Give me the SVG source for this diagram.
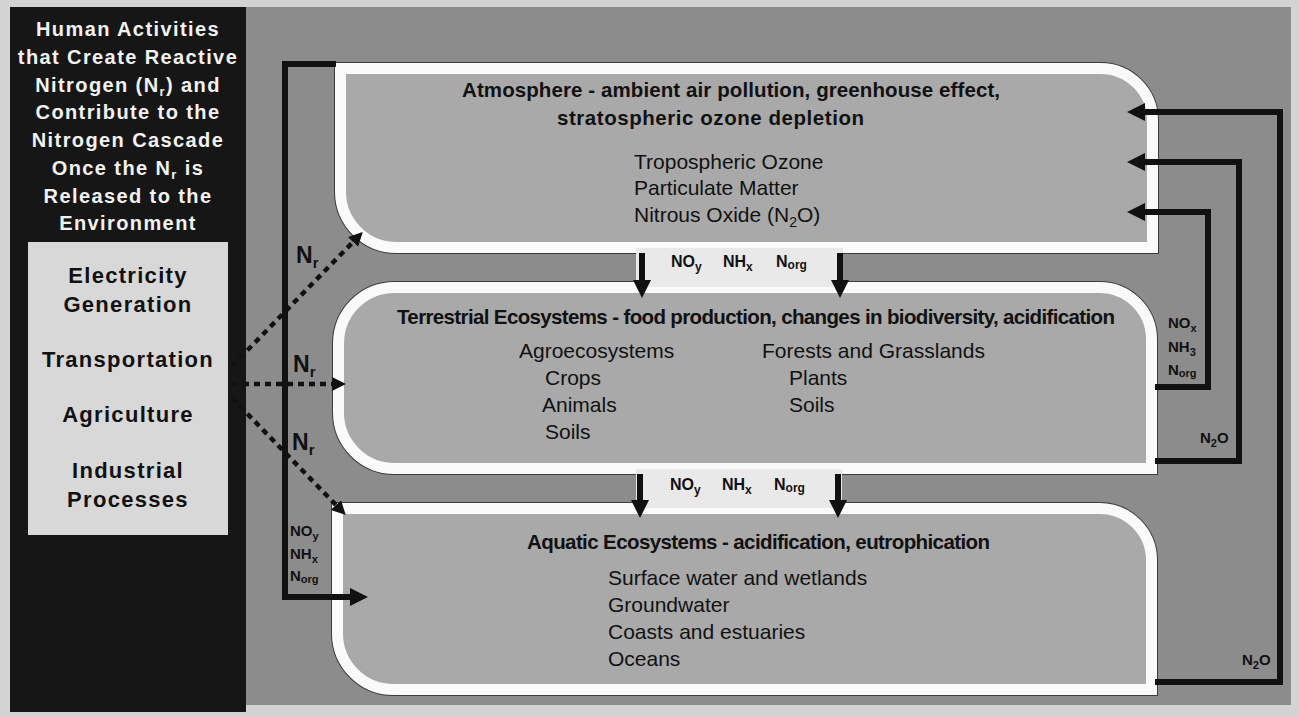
<svg xmlns="http://www.w3.org/2000/svg" width="1299" height="717" viewBox="0 0 1299 717">
<style>
.bg{fill:#d3d3d3}
.panel{fill:#8c8c8c}
.dark{fill:#161616}
.list{fill:#d8d8d8}
.rim{fill:none;stroke:#3c3c3c;stroke-width:13}
.box{fill:#a9a9a9;stroke:#fafafa;stroke-width:11}
.bridge{fill:#e9e9e9}
.b{font-family:"Liberation Sans",Arial,sans-serif;font-weight:bold;fill:#111}
.r{font-family:"Liberation Sans",Arial,sans-serif;fill:#111}
.wt{font-family:"Liberation Sans",Arial,sans-serif;font-weight:bold;fill:#f2f2f2;font-size:20px;letter-spacing:1.4px;text-anchor:middle}
.lt{font-size:22px;letter-spacing:1.3px;text-anchor:middle}
.ttl{font-size:20.5px}
.itm{font-size:21px}
.sm{font-size:15px}
.br{font-size:16px}
.nr{font-size:23px}
.solid{fill:none;stroke:#111;stroke-width:6;stroke-linejoin:miter}
.dot{fill:none;stroke:#111;stroke-width:4.5;stroke-dasharray:6 5}
</style>
<defs>
<marker id="ah" viewBox="0 0 10 10" refX="0" refY="5" markerWidth="18" markerHeight="18" markerUnits="userSpaceOnUse" orient="auto"><path d="M0,0 L10,5 L0,10 Z" fill="#111"/></marker>
<marker id="ahs" viewBox="0 0 10 10" refX="0" refY="5" markerWidth="14" markerHeight="14" markerUnits="userSpaceOnUse" orient="auto"><path d="M0,0 L10,5 L0,10 Z" fill="#111"/></marker>
</defs>
<rect class="bg" x="0" y="0" width="1299" height="717"/>
<rect class="panel" x="245" y="7" width="1046" height="698"/>

<g id="sources">
<rect class="dark" x="10" y="7" width="236" height="705"/>
<text class="wt" x="128" y="36">Human Activities</text>
<text class="wt" x="128" y="64">that Create Reactive</text>
<text class="wt" x="128" y="92">Nitrogen (N<tspan font-size="13" dy="4">r</tspan><tspan dy="-4">) and</tspan></text>
<text class="wt" x="128" y="119">Contribute to the</text>
<text class="wt" x="128" y="147">Nitrogen Cascade</text>
<text class="wt" x="128" y="175">Once the N<tspan font-size="13" dy="4">r</tspan><tspan dy="-4"> is</tspan></text>
<text class="wt" x="128" y="203">Released to the</text>
<text class="wt" x="128" y="230">Environment</text>
<rect class="list" x="28" y="242" width="200" height="293"/>
<text class="b lt" x="128" y="283">Electricity</text>
<text class="b lt" x="128" y="312">Generation</text>
<text class="b lt" x="128" y="367">Transportation</text>
<text class="b lt" x="128" y="422">Agriculture</text>
<text class="b lt" x="128" y="478">Industrial</text>
<text class="b lt" x="128" y="507">Processes</text>
</g>

<g id="atmosphere">
<path class="rim" d="M340.5,68.5 H1100.5 A52,52 0 0 1 1152.5,120.5 V247.5 H396.5 A56,56 0 0 1 340.5,191.5 Z"/>
<path class="box" d="M340.5,68.5 H1100.5 A52,52 0 0 1 1152.5,120.5 V247.5 H396.5 A56,56 0 0 1 340.5,191.5 Z"/>
<text class="b ttl" x="462" y="97" textLength="538" lengthAdjust="spacing">Atmosphere - ambient air pollution, greenhouse effect,</text>
<text class="b ttl" x="557" y="125" textLength="307" lengthAdjust="spacing">stratospheric ozone depletion</text>
<text class="r itm" x="634" y="169">Tropospheric Ozone</text>
<text class="r itm" x="634" y="195">Particulate Matter</text>
<text class="r itm" x="634" y="222">Nitrous Oxide (N<tspan font-size="14" dy="5">2</tspan><tspan dy="-5">O)</tspan></text>
</g>

<g id="terrestrial">
<path class="rim" d="M394.5,287.5 H1099.5 A52,52 0 0 1 1151.5,339.5 V468.5 H394.5 A56,56 0 0 1 338.5,412.5 V343.5 A56,56 0 0 1 394.5,287.5 Z"/>
<path class="box" d="M394.5,287.5 H1099.5 A52,52 0 0 1 1151.5,339.5 V468.5 H394.5 A56,56 0 0 1 338.5,412.5 V343.5 A56,56 0 0 1 394.5,287.5 Z"/>
<text class="b ttl" x="397" y="324" textLength="718" lengthAdjust="spacing">Terrestrial Ecosystems - food production, changes in biodiversity, acidification</text>
<text class="r itm" x="519" y="358">Agroecosystems</text>
<text class="r itm" x="545" y="385">Crops</text>
<text class="r itm" x="542" y="412">Animals</text>
<text class="r itm" x="545" y="439">Soils</text>
<text class="r itm" x="762" y="358">Forests and Grasslands</text>
<text class="r itm" x="789" y="385">Plants</text>
<text class="r itm" x="789" y="412">Soils</text>
</g>

<g id="aquatic">
<path class="rim" d="M337.5,508.5 H1099.5 A52,52 0 0 1 1151.5,560.5 V689.5 H393.5 A56,56 0 0 1 337.5,633.5 Z"/>
<path class="box" d="M337.5,508.5 H1099.5 A52,52 0 0 1 1151.5,560.5 V689.5 H393.5 A56,56 0 0 1 337.5,633.5 Z"/>
<text class="b ttl" x="527" y="549" textLength="463" lengthAdjust="spacing">Aquatic Ecosystems - acidification, eutrophication</text>
<text class="r itm" x="608" y="585">Surface water and wetlands</text>
<text class="r itm" x="608" y="612">Groundwater</text>
<text class="r itm" x="608" y="639">Coasts and estuaries</text>
<text class="r itm" x="608" y="666">Oceans</text>
</g>

<g id="bridges">
<rect class="bridge" x="636" y="248" width="207" height="39"/>
<rect class="bridge" x="636" y="469" width="206" height="39"/>
</g>

<g id="connectors">
<line class="solid" x1="642" y1="253" x2="642" y2="280" marker-end="url(#ah)"/>
<line class="solid" x1="840" y1="253" x2="840" y2="280" marker-end="url(#ah)"/>
<line class="solid" x1="640" y1="474" x2="640" y2="500" marker-end="url(#ah)"/>
<line class="solid" x1="838" y1="474" x2="838" y2="500" marker-end="url(#ah)"/>
<polyline class="solid" points="336,64 285,64 285,597 350,597" marker-end="url(#ah)"/>
<polyline class="solid" points="1155,387 1208,387 1208,212 1145,212" marker-end="url(#ah)"/>
<polyline class="solid" points="1155,461 1239,461 1239,162 1145,162" marker-end="url(#ah)"/>
<polyline class="solid" points="1155,682 1280,682 1280,112 1145,112" marker-end="url(#ah)"/>
<line class="dot" x1="232" y1="366" x2="353" y2="242" marker-end="url(#ahs)"/>
<line class="dot" x1="232" y1="384" x2="332" y2="384" marker-end="url(#ahs)"/>
<line class="dot" x1="232" y1="398" x2="336" y2="505" marker-end="url(#ahs)"/>
</g>

<g id="labels">
<text class="b nr" x="296" y="263">N<tspan font-size="15" dy="5">r</tspan></text>
<text class="b nr" x="293" y="372">N<tspan font-size="15" dy="5">r</tspan></text>
<text class="b nr" x="292" y="450">N<tspan font-size="15" dy="5">r</tspan></text>
<text class="b br" x="671" y="267">NO<tspan font-size="12" dy="4">y</tspan></text>
<text class="b br" x="723" y="267">NH<tspan font-size="12" dy="4">x</tspan></text>
<text class="b br" x="776" y="267">N<tspan font-size="12" dy="2">org</tspan></text>
<text class="b br" x="670" y="490">NO<tspan font-size="12" dy="4">y</tspan></text>
<text class="b br" x="722" y="490">NH<tspan font-size="12" dy="4">x</tspan></text>
<text class="b br" x="774" y="490">N<tspan font-size="12" dy="2">org</tspan></text>
<text class="b sm" x="1168" y="328">NO<tspan font-size="11" dy="4">x</tspan></text>
<text class="b sm" x="1168" y="352">NH<tspan font-size="11" dy="4">3</tspan></text>
<text class="b sm" x="1168" y="375">N<tspan font-size="11" dy="2">org</tspan></text>
<text class="b sm" x="1200" y="443">N<tspan font-size="11" dy="4">2</tspan><tspan dy="-4">O</tspan></text>
<text class="b sm" x="1242" y="665">N<tspan font-size="11" dy="4">2</tspan><tspan dy="-4">O</tspan></text>
<text class="b sm" x="290" y="536">NO<tspan font-size="11" dy="4">y</tspan></text>
<text class="b sm" x="290" y="559">NH<tspan font-size="11" dy="4">x</tspan></text>
<text class="b sm" x="290" y="581">N<tspan font-size="11" dy="2">org</tspan></text>
</g>
</svg>
